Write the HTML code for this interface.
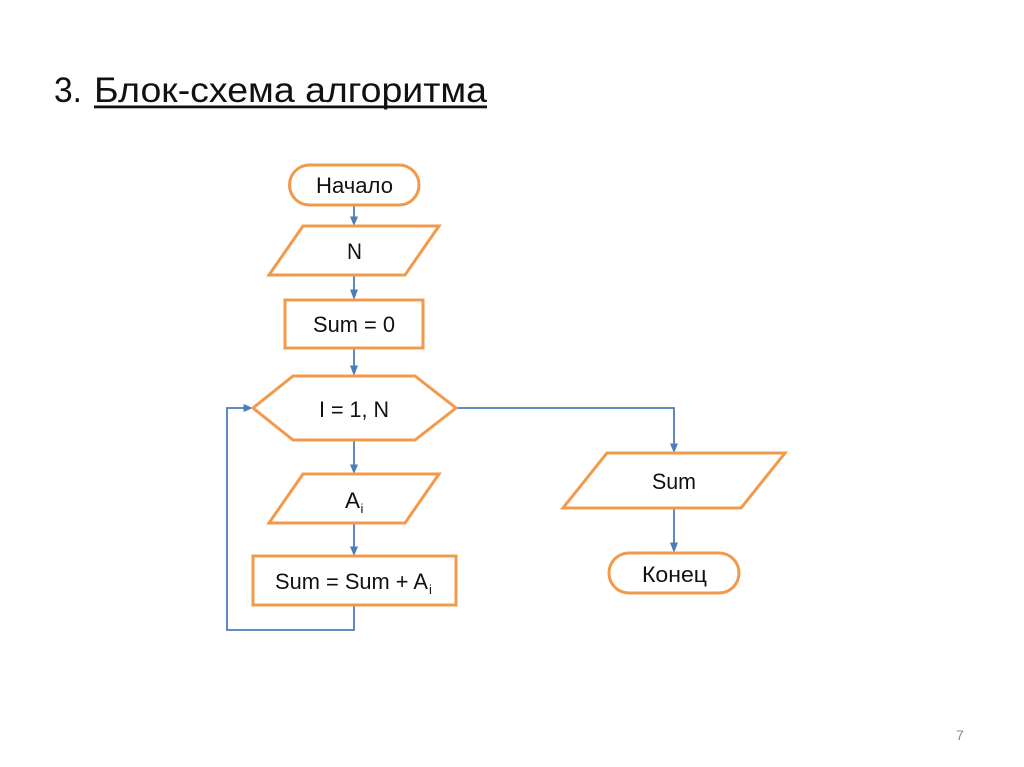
<!DOCTYPE html>
<html lang="ru">
<head>
<meta charset="utf-8">
<title>Блок-схема алгоритма</title>
<style>
html,body{margin:0;padding:0;background:#fff;width:1024px;height:767px;overflow:hidden}
svg{display:block}
text{font-family:"Liberation Sans","Noto Sans CJK JP",sans-serif;fill:#111}
.l{font-size:22.5px}
.s{fill:none;stroke:#f2994a;stroke-width:3}
.c{fill:none;stroke:#4a7ebb;stroke-width:1.8}
.a{fill:#4a7ebb;stroke:none}
</style>
</head>
<body>
<svg width="1024" height="767" viewBox="0 0 1024 767" xmlns="http://www.w3.org/2000/svg">
<rect width="1024" height="767" fill="#fff"/>

<text x="54" y="102" font-size="35" textLength="28" lengthAdjust="spacingAndGlyphs">3.</text>
<text x="94" y="102" font-size="35.500" textLength="393" lengthAdjust="spacingAndGlyphs">Блок-схема алгоритма</text>
<rect x="94" y="105.500" width="393" height="2.800" fill="#111"/>

<!-- connectors -->
<path class="c" d="M354 205V218M354 275V292M354 348V368M354 440V466M354 523V548"/>
<path class="c" d="M354 605V630H227V408H245"/>
<path class="c" d="M456 408H674V445M674 508V545"/>
<path class="a" d="M350 216.500H358L354 226ZM350 289.500H358L354 300ZM350 365.500H358L354 376ZM350 464.500H358L354 474ZM350 546.500H358L354 556ZM670 443.500H678L674 453ZM670 542.500H678L674 553ZM243.500 404V412L253 408Z"/>

<!-- shapes -->
<rect class="s" x="289.500" y="165" width="129.500" height="40" rx="20" ry="20"/>
<polygon class="s" points="303,226 439,226 405,275 269,275"/>
<rect class="s" x="285" y="300" width="138" height="48"/>
<polygon class="s" points="293,376 415,376 456,408 415,440 293,440 253,408"/>
<polygon class="s" points="303,474 439,474 405,523 269,523"/>
<rect class="s" x="253" y="556" width="203" height="49"/>
<polygon class="s" points="607,453 785,453 741,508 563,508"/>
<rect class="s" x="609" y="553" width="130" height="40" rx="20" ry="20"/>

<!-- labels -->
<text class="l" x="316" y="193" textLength="77" lengthAdjust="spacingAndGlyphs">Начало</text>
<text class="l" x="347" y="259" textLength="15" lengthAdjust="spacingAndGlyphs">N</text>
<text class="l" x="313" y="332" textLength="82" lengthAdjust="spacingAndGlyphs">Sum = 0</text>
<text class="l" x="319" y="417" textLength="70" lengthAdjust="spacingAndGlyphs">I = 1, N</text>
<text class="l" x="345" y="508" textLength="15" lengthAdjust="spacingAndGlyphs">A</text>
<text x="360.500" y="513" font-size="13">i</text>
<text class="l" x="275" y="589" textLength="153" lengthAdjust="spacingAndGlyphs">Sum = Sum + A</text>
<text x="429" y="594" font-size="13">i</text>
<text class="l" x="652" y="489" textLength="44" lengthAdjust="spacingAndGlyphs">Sum</text>
<text class="l" x="642" y="582" textLength="65" lengthAdjust="spacingAndGlyphs">Конец</text>
<text x="956" y="740" font-size="14" style="fill:#8a8a8a">7</text>
</svg>
</body>
</html>
